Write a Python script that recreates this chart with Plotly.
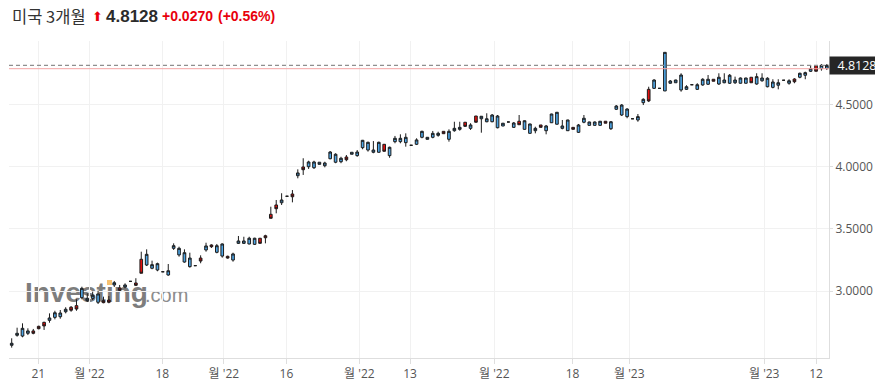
import base64
import plotly.graph_objects as go

# ---------------- data ----------------
title_name = "미국 3개월"
last_price = 4.8128
prev_close = 4.7858
change_txt = "+0.0270"
change_pct_txt = "(+0.56%)"

open_ = [2.566, 2.646, 2.640, 2.662, 2.681, 2.718, 2.750, 2.766, 2.790, 2.795,
         2.835, 2.871, 2.884, 2.948, 2.924, 2.943, 2.911, 2.924, 2.929, 3.050,
         3.026, 3.034, 3.079, 3.066, 3.256, 3.210, 3.184, 3.170, 3.156, 3.130,
         3.344, 3.291, 3.234, 3.197, 3.205, 3.266, 3.331, 3.371, 3.312, 3.282,
         3.280, 3.250, 3.384, 3.384, 3.379, 3.376, 3.425, 3.445, 3.617, 3.692,
         3.710, 3.762, 3.780, 3.927, 3.997, 3.999, 3.991, 4.018, 4.007, 4.063,
         4.035, 4.039, 4.077, 4.099, 4.088, 4.152, 4.133, 4.115, 4.115, 4.179,
         4.088, 4.200, 4.200, 4.192, 4.171, 4.179, 4.235, 4.219, 4.235, 4.251,
         4.283, 4.219, 4.288, 4.299, 4.356, 4.307, 4.406, 4.384, 4.360, 4.360,
         4.312, 4.326, 4.358, 4.315, 4.364, 4.299, 4.267, 4.288, 4.334, 4.288,
         4.352, 4.340, 4.307, 4.288, 4.315, 4.275, 4.356, 4.331, 4.331, 4.331,
         4.364, 4.304, 4.460, 4.414, 4.401, 4.384, 4.374, 4.513, 4.620, 4.628,
         4.628, 4.607, 4.669, 4.673, 4.615, 4.620, 4.657, 4.620, 4.655, 4.661,
         4.701, 4.663, 4.673, 4.669, 4.673, 4.669, 4.669, 4.717, 4.663, 4.689,
         4.641, 4.636, 4.653, 4.693, 4.669, 4.703, 4.717, 4.733, 4.765, 4.810,
         4.786, 4.789]
high = [2.622, 2.707, 2.742, 2.702, 2.697, 2.723, 2.755, 2.822, 2.843, 2.849,
        2.871, 2.881, 2.935, 3.036, 2.983, 2.996, 3.004, 2.956, 2.961, 3.082,
        3.050, 3.063, 3.079, 3.104, 3.317, 3.336, 3.245, 3.229, 3.156, 3.218,
        3.384, 3.357, 3.336, 3.309, 3.205, 3.288, 3.389, 3.376, 3.379, 3.384,
        3.285, 3.309, 3.443, 3.437, 3.437, 3.429, 3.425, 3.453, 3.678, 3.732,
        3.786, 3.762, 3.812, 3.978, 4.067, 4.047, 4.047, 4.035, 4.039, 4.125,
        4.107, 4.079, 4.093, 4.115, 4.133, 4.214, 4.200, 4.205, 4.200, 4.181,
        4.160, 4.246, 4.259, 4.267, 4.171, 4.227, 4.288, 4.237, 4.286, 4.280,
        4.283, 4.299, 4.360, 4.360, 4.358, 4.348, 4.406, 4.406, 4.428, 4.422,
        4.414, 4.350, 4.358, 4.358, 4.414, 4.370, 4.344, 4.320, 4.334, 4.334,
        4.424, 4.438, 4.374, 4.376, 4.315, 4.342, 4.414, 4.360, 4.362, 4.366,
        4.364, 4.366, 4.494, 4.502, 4.468, 4.384, 4.422, 4.548, 4.641, 4.701,
        4.628, 4.917, 4.695, 4.697, 4.749, 4.653, 4.657, 4.669, 4.709, 4.735,
        4.701, 4.749, 4.749, 4.743, 4.722, 4.715, 4.713, 4.717, 4.749, 4.749,
        4.717, 4.701, 4.701, 4.693, 4.701, 4.709, 4.754, 4.762, 4.815, 4.810,
        4.823, 4.823]
low = [2.547, 2.635, 2.630, 2.648, 2.654, 2.694, 2.689, 2.747, 2.774, 2.779,
       2.822, 2.835, 2.843, 2.935, 2.913, 2.929, 2.897, 2.903, 2.903, 3.034,
       3.002, 3.023, 3.079, 3.042, 3.144, 3.202, 3.176, 3.160, 3.156, 3.124,
       3.331, 3.277, 3.229, 3.189, 3.205, 3.224, 3.317, 3.347, 3.304, 3.269,
       3.261, 3.237, 3.379, 3.379, 3.376, 3.371, 3.384, 3.384, 3.585, 3.625,
       3.692, 3.762, 3.713, 3.906, 3.933, 3.981, 3.981, 4.018, 3.994, 4.059,
       4.027, 4.027, 4.043, 4.099, 4.079, 4.139, 4.120, 4.107, 4.112, 4.120,
       4.071, 4.187, 4.187, 4.160, 4.171, 4.173, 4.227, 4.217, 4.227, 4.240,
       4.264, 4.200, 4.280, 4.288, 4.320, 4.294, 4.354, 4.272, 4.356, 4.356,
       4.307, 4.324, 4.358, 4.310, 4.336, 4.297, 4.265, 4.267, 4.315, 4.259,
       4.350, 4.338, 4.299, 4.286, 4.299, 4.270, 4.348, 4.329, 4.329, 4.329,
       4.348, 4.294, 4.454, 4.406, 4.388, 4.384, 4.360, 4.494, 4.518, 4.623,
       4.628, 4.607, 4.665, 4.671, 4.601, 4.615, 4.657, 4.615, 4.649, 4.655,
       4.685, 4.655, 4.669, 4.663, 4.663, 4.667, 4.667, 4.673, 4.657, 4.681,
       4.636, 4.628, 4.620, 4.693, 4.657, 4.669, 4.709, 4.701, 4.759, 4.765,
       4.770, 4.775]
close = [2.582, 2.662, 2.702, 2.681, 2.662, 2.699, 2.721, 2.785, 2.827, 2.825,
         2.855, 2.847, 2.857, 3.023, 2.943, 2.967, 2.978, 2.908, 2.911, 3.068,
         3.007, 3.050, 3.079, 3.047, 3.144, 3.296, 3.213, 3.221, 3.156, 3.164,
         3.365, 3.344, 3.309, 3.266, 3.205, 3.242, 3.363, 3.357, 3.365, 3.379,
         3.266, 3.299, 3.403, 3.403, 3.425, 3.425, 3.384, 3.429, 3.585, 3.662,
         3.732, 3.762, 3.758, 3.949, 3.975, 4.037, 4.037, 4.035, 4.029, 4.117,
         4.099, 4.067, 4.055, 4.115, 4.117, 4.211, 4.195, 4.133, 4.195, 4.123,
         4.155, 4.227, 4.227, 4.235, 4.171, 4.214, 4.283, 4.235, 4.267, 4.267,
         4.264, 4.283, 4.307, 4.315, 4.323, 4.334, 4.356, 4.404, 4.384, 4.414,
         4.406, 4.348, 4.358, 4.350, 4.336, 4.368, 4.342, 4.307, 4.315, 4.326,
         4.422, 4.436, 4.326, 4.374, 4.299, 4.334, 4.388, 4.358, 4.358, 4.364,
         4.348, 4.360, 4.486, 4.494, 4.462, 4.384, 4.401, 4.540, 4.527, 4.695,
         4.628, 4.917, 4.687, 4.695, 4.735, 4.641, 4.657, 4.657, 4.701, 4.701,
         4.685, 4.717, 4.695, 4.733, 4.695, 4.711, 4.711, 4.673, 4.722, 4.711,
         4.709, 4.679, 4.673, 4.693, 4.689, 4.681, 4.749, 4.754, 4.786, 4.765,
         4.813, 4.8128]

tick_pos = [4.93, 14.4, 27.9, 39.3, 50.9, 64.4, 73.8, 89.4, 103.9, 114.4, 139.4, 149.0]
tick_text = ["21", "월 '22", "18", "월 '22", "16", "월 '22", "13", "월 '22",
             "18", "월 '23", "월 '23", "12"]
y_ticks = [3.0, 3.5, 4.0, 4.5]

# ---------------- layout geometry ----------------
# the page body has an 8px margin, so the figure starts at (8, 8) in the window
OFF = 8
WIN_W, WIN_H = 883, 387
W, H = WIN_W - OFF, WIN_H - OFF
PLOT_L, PLOT_R, PLOT_T, PLOT_B = 9, 829, 41, 358      # plot area in window pixels
ML, MT = PLOT_L - OFF, PLOT_T - OFF
PW, PH = PLOT_R - PLOT_L, PLOT_B - PLOT_T
MR, MB = W - ML - PW, H - MT - PH


def px(x):
    return (x - PLOT_L) / PW


def py(y):
    return (PLOT_B - y) / PH


x_idx = list(range(len(close)))

fig = go.Figure()
fig.add_trace(go.Candlestick(
    x=x_idx, open=open_, high=high, low=low, close=close,
    increasing=dict(fillcolor="#4ea6e6", line=dict(color="#1c1c1c", width=1)),
    decreasing=dict(fillcolor="#e3100f", line=dict(color="#1c1c1c", width=1)),
    whiskerwidth=0, showlegend=False, hoverinfo="skip",
))

# watermark as an svg image below the traces
svg = (
    '<svg xmlns="http://www.w3.org/2000/svg" width="180" height="40">'
    '<text x="4" y="32" font-family="Liberation Sans, Arial, sans-serif" '
    'font-weight="bold" font-size="28" fill="#7d7d7d">Investing</text>'
    '<rect x="86" y="10" width="5" height="5" fill="#f6c272"/>'
    '<text x="124" y="32" font-family="Liberation Sans, Arial, sans-serif" '
    'font-size="20" fill="#8c8c8c">.com</text>'
    '</svg>'
)
src = "data:image/svg+xml;base64," + base64.b64encode(svg.encode("utf-8")).decode("ascii")

fig.update_layout(
    width=W, height=H, autosize=False,
    margin=dict(l=ML, r=MR, t=MT, b=MB, pad=0),
    paper_bgcolor="white", plot_bgcolor="rgba(0,0,0,0)",
    showlegend=False,
    font=dict(family="Open Sans, Noto Sans CJK KR, sans-serif", size=12, color="#555555"),
    images=[dict(source=src, xref="paper", yref="paper",
                 x=px(21), y=py(270), sizex=180 / PW, sizey=40 / PH,
                 xanchor="left", yanchor="top", sizing="stretch", layer="below")],
    xaxis=dict(
        range=[-0.5, len(close) - 0.6],
        rangeslider=dict(visible=False),
        tickmode="array", tickvals=tick_pos, ticktext=tick_text,
        showgrid=True, gridcolor="#f1f1f1", gridwidth=1,
        showline=True, linecolor="#dedede", linewidth=1,
        ticks="outside", ticklen=5, tickcolor="#dedede",
        tickfont=dict(size=12, color="#555555"),
        zeroline=False, fixedrange=True, automargin=False,
    ),
    yaxis=dict(
        side="right", range=[2.4638, 5.008],
        tickmode="array", tickvals=y_ticks,
        ticktext=[f"{v:.4f}" for v in y_ticks],
        showgrid=True, gridcolor="#f1f1f1", gridwidth=1,
        showline=True, linecolor="#dedede", linewidth=1,
        ticks="outside", ticklen=3, tickcolor="#dedede",
        tickfont=dict(size=12, color="#555555"),
        zeroline=False, fixedrange=True, automargin=False,
    ),
)

# previous close (pink) and last price (dashed)
fig.add_shape(type="line", xref="paper", yref="y", x0=0, x1=1, y0=prev_close, y1=prev_close,
              line=dict(color="#f4a6a6", width=1))
fig.add_shape(type="line", xref="paper", yref="y", x0=0, x1=1, y0=last_price, y1=last_price,
              line=dict(color="#8f8f8f", width=1.3, dash="4px,3px"))

# last price label on the right
fig.add_annotation(x=1, xref="paper", y=last_price, yref="y", xanchor="left", yanchor="middle",
                   text=f"{last_price:.4f}", showarrow=False, bgcolor="#262626",
                   width=52, height=15, borderpad=1, align="center",
                   font=dict(color="white", size=12.5, family="Open Sans, sans-serif"))

# header
fig.add_annotation(x=px(10), y=py(16), xref="paper", yref="paper", xanchor="left", yanchor="middle",
                   text=title_name, showarrow=False,
                   font=dict(size=16.5, color="#333333", family="Noto Sans CJK KR, sans-serif"))
fig.add_annotation(x=px(90), y=py(16), xref="paper", yref="paper", xanchor="left", yanchor="middle",
                   text="⬆", showarrow=False,
                   font=dict(size=13, color="#e8000b", family="DejaVu Sans, sans-serif"))
fig.add_annotation(x=px(104), y=py(16), xref="paper", yref="paper", xanchor="left", yanchor="middle",
                   text=f"<b>{last_price:.4f}</b>", showarrow=False,
                   font=dict(size=17, color="#2b2b2b", family="Liberation Sans, Arial, sans-serif"))
fig.add_annotation(x=px(160), y=py(16), xref="paper", yref="paper", xanchor="left", yanchor="middle",
                   text=f"<b>{change_txt}</b>", showarrow=False,
                   font=dict(size=14, color="#e8000b", family="Liberation Sans, Arial, sans-serif"))
fig.add_annotation(x=px(216), y=py(16), xref="paper", yref="paper", xanchor="left", yanchor="middle",
                   text=f"<b>{change_pct_txt}</b>", showarrow=False,
                   font=dict(size=14, color="#e8000b", family="Liberation Sans, Arial, sans-serif"))

fig.write_html("out.html")
